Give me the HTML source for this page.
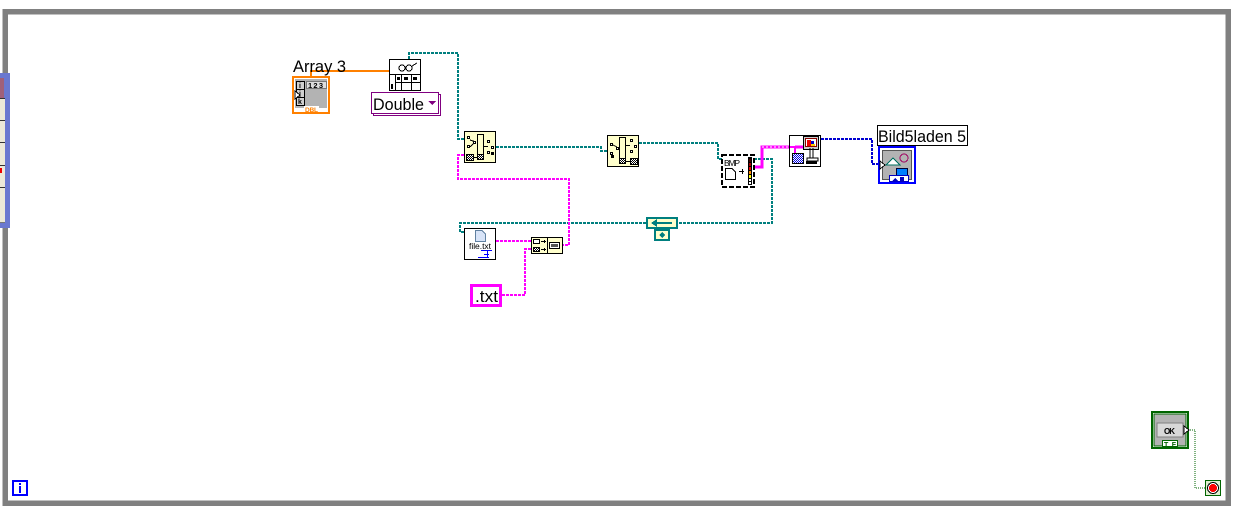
<!DOCTYPE html>
<html><head><meta charset="utf-8">
<style>
html,body{margin:0;padding:0;background:#fff;width:1234px;height:508px;overflow:hidden}
svg{display:block;position:absolute;left:0;top:0}
text{font-family:"Liberation Sans",sans-serif}
</style></head><body>
<svg width="1234" height="508" viewBox="0 0 1234 508" shape-rendering="crispEdges">
<defs>
<pattern id="chk" width="2" height="2" patternUnits="userSpaceOnUse"><rect width="2" height="2" fill="#fff"/><rect width="1" height="1" fill="#000"/><rect x="1" y="1" width="1" height="1" fill="#000"/></pattern>
<pattern id="chb" width="2" height="2" patternUnits="userSpaceOnUse"><rect width="2" height="2" fill="#fff"/><rect width="1" height="1" fill="#0000e0"/><rect x="1" y="1" width="1" height="1" fill="#0000e0"/></pattern>
</defs>
<!-- loop border -->
<rect x="5" y="11.5" width="1223" height="491.5" fill="none" stroke="#808080" stroke-width="5.5"/>
<!-- left panel -->
<rect x="0" y="73" width="10" height="155" fill="#6a78d0"/>
<rect x="0" y="78" width="4" height="20" fill="#a0607a"/>
<rect x="0" y="99" width="5" height="124" fill="#ece9d8"/>
<rect x="0" y="98" width="5" height="1" fill="#333"/><rect x="0" y="120" width="5" height="1" fill="#333"/>
<rect x="0" y="142" width="5" height="1" fill="#333"/><rect x="0" y="165" width="5" height="1" fill="#333"/>
<rect x="0" y="187" width="5" height="1" fill="#333"/><rect x="0" y="222" width="5" height="1" fill="#777"/>
<rect x="0" y="168" width="2" height="5" fill="#e00"/>
<!-- wires -->
<g fill="none" stroke-width="2">
<path d="M311 76V71H389" stroke="#ff8000"/>
<g stroke="#007f7f" stroke-dasharray="3 1">
<path d="M409 59V53H458V139H464"/>
<path d="M496 147H601V151H607"/>
<path d="M639 143H718V159H722"/>
<path d="M754 159H772V223H678"/>
<path d="M646 223H460V232H464"/>
</g>
<g stroke="#ff00ff" stroke-dasharray="3 1">
<path d="M464 155H458V179H569V245H563"/>
<path d="M496 241H531"/>
<path d="M502 295H525V249H531"/>
</g>
<path d="M755 167H762V147H789" stroke="#ff00ff" stroke-width="3"/>
<path d="M762 147H789" stroke="#fff" stroke-width="1" stroke-dasharray="2 2"/>
<path d="M821 139H872V164H878" stroke="#0000d0" stroke-dasharray="3 1"/>
</g>
<path d="M1188 430H1195V488H1205" fill="none" stroke="#006400" stroke-dasharray="1 1"/>
<!-- Array control -->
<rect x="293" y="77" width="36" height="36" fill="#fff" stroke="#ff8000" stroke-width="2"/>
<rect x="295" y="79" width="32" height="29" fill="#b3b3b3"/>
<rect x="296.500" y="81.500" width="8" height="24" fill="#d0d0d0" stroke="#000" stroke-width="1"/>
<path d="M296 89.500H304M296 97.500H304" stroke="#000"/>
<rect x="306.500" y="81.500" width="20" height="7" fill="#ddd" stroke="#777"/>
<text x="308" y="88" font-size="7.500" font-weight="bold" textLength="15">123</text>
<text x="299" y="88" font-size="7" font-weight="bold">i</text>
<text x="299" y="96" font-size="7" font-weight="bold">j</text>
<text x="298" y="104" font-size="7" font-weight="bold">k</text>
<path d="M295 91L300 95L295 99Z" fill="#fff" stroke="#000"/>
<rect x="304" y="106" width="15" height="6" fill="#fff"/>
<text x="305" y="112" font-size="6.500" font-weight="bold" fill="#ff8000" textLength="13">DBL</text>
<text x="293" y="72" font-size="17" fill="#000" textLength="53" lengthAdjust="spacingAndGlyphs">Array 3</text>
<!-- glasses table node -->
<rect x="389.500" y="59.500" width="31" height="31" fill="#fff" stroke="#000"/>
<path d="M389 74.500H421M401.500 74V91M411.500 74V91M395.500 74V91M395 82.500H421" stroke="#000" fill="none"/>
<g fill="none" stroke="#000"><circle cx="402" cy="68" r="3"/><circle cx="409" cy="68" r="3"/><path d="M412 66L417 63"/></g>
<rect x="397" y="77" width="3" height="3" fill="#000"/><rect x="404" y="77" width="4" height="3" fill="#000"/><rect x="413" y="77" width="4" height="3" fill="#000"/>
<rect x="391" y="84" width="2" height="5" fill="#000"/>
<!-- Double -->
<rect x="373.500" y="94.500" width="67" height="21" fill="#fff" stroke="#800080"/>
<rect x="371.500" y="92.500" width="67" height="21" fill="#fff" stroke="#800080"/>
<text x="373" y="110" font-size="17" fill="#000" textLength="51" lengthAdjust="spacingAndGlyphs">Double</text>
<path d="M428 101H436L432 105Z" fill="#800080"/>
<!-- yellow node 1 -->
<rect x="464.500" y="131.500" width="31" height="31" fill="#ffffcc" stroke="#000"/>
<rect x="477.500" y="134.500" width="6" height="25" fill="#ffffcc" stroke="#000"/>
<rect x="466.500" y="154.500" width="7" height="6" fill="url(#chk)" stroke="#000"/><rect x="477.500" y="154.500" width="6" height="5" fill="url(#chk)" stroke="#000"/>
<g fill="#fff" stroke="#000"><rect x="467.500" y="136.500" width="2" height="2"/><rect x="473.500" y="141.500" width="2" height="2"/><rect x="467.500" y="145.500" width="2" height="2"/><rect x="487.500" y="140.500" width="2" height="2"/><rect x="491.500" y="146.500" width="2" height="2"/><rect x="487.500" y="151.500" width="2" height="2"/></g>
<rect x="491" y="152" width="3" height="3" fill="#000"/>
<path d="M470 140L476 142M470 147L473 144M484 146.500H488M474 157.500H477" stroke="#000"/>
<!-- yellow node 2 -->
<rect x="607.500" y="135.500" width="31" height="31" fill="#ffffcc" stroke="#000"/>
<rect x="619.500" y="137.500" width="6" height="26" fill="#ffffcc" stroke="#000"/>
<rect x="619.500" y="158.500" width="6" height="5" fill="url(#chk)" stroke="#000"/><rect x="630.500" y="158.500" width="7" height="6" fill="url(#chk)" stroke="#000"/>
<g fill="#fff" stroke="#000"><rect x="610.500" y="143.500" width="2" height="2"/><rect x="610.500" y="152.500" width="2" height="2"/><rect x="616.500" y="147.500" width="2" height="2"/><rect x="630.500" y="139.500" width="2" height="2"/><rect x="634.500" y="145.500" width="2" height="2"/><rect x="630.500" y="150.500" width="2" height="2"/></g>
<rect x="611" y="155" width="3" height="3" fill="#000"/>
<path d="M613 145L617 147M626 145.500H630M626 161.500H630" stroke="#000"/>
<!-- BMP -->
<rect x="722" y="155" width="32" height="32" fill="#fff" stroke="#000" stroke-width="2" stroke-dasharray="5 2"/>
<text x="724" y="166" font-size="8.500" fill="#000" textLength="16">BMP</text>
<path d="M725.500 168.500H732L735.500 172V179.500H725.500Z" fill="#fff" stroke="#000"/>
<path d="M739 171.500H744M742.500 169V174" stroke="#000"/>
<rect x="748" y="157" width="4" height="28" fill="#000"/>
<rect x="749" y="159" width="2" height="3" fill="#400"/><rect x="749" y="163" width="2" height="3" fill="#a00"/><rect x="749" y="167" width="2" height="3" fill="#e00"/><rect x="749" y="171" width="2" height="3" fill="#f80"/><rect x="749" y="175" width="2" height="3" fill="#ff0"/><rect x="749" y="179" width="2" height="2" fill="#fff"/><rect x="749" y="182" width="2" height="2" fill="#fff"/>
<!-- picture node -->
<rect x="789.500" y="135.500" width="31" height="31" fill="#fff" stroke="#000"/>
<path d="M790 147H795V153" stroke="#ff00ff" stroke-width="2" fill="none"/>
<path d="M795 147H804" stroke="#ff00ff" stroke-width="3"/>
<rect x="792.500" y="153.500" width="11" height="10" fill="url(#chb)" stroke="#000"/>
<rect x="803.500" y="136.500" width="15" height="13" fill="#ccc" stroke="#000"/>
<rect x="805.500" y="138.500" width="11" height="8" fill="#fff" stroke="#800"/>
<rect x="807" y="140" width="4" height="6" fill="#e00"/><rect x="811" y="141" width="3" height="3" fill="#00c"/><rect x="811" y="144" width="4" height="2" fill="#fc0"/>
<path d="M810 158V148M813 158V148" stroke="#000"/>
<path d="M807 158H818V161H807Z" fill="#fff" stroke="#000"/>
<rect x="806" y="161" width="11" height="3" fill="#000"/>
<!-- Bild label -->
<rect x="877.500" y="125.500" width="90" height="20" fill="#fff" stroke="#000"/>
<text x="878" y="142" font-size="17" fill="#000" textLength="88" lengthAdjust="spacingAndGlyphs">Bild5laden 5</text>
<!-- picture control -->
<rect x="879" y="147" width="36" height="36" fill="#fff" stroke="#0000ff" stroke-width="2"/>
<rect x="882.500" y="150.500" width="29" height="29" fill="#b3b3b3" stroke="#555"/>
<path d="M886 165L893 158L900 165Z" fill="#fff" stroke="#007060"/>
<circle cx="904" cy="158" r="4" fill="none" stroke="#a00060"/>
<rect x="896.500" y="168.500" width="11" height="8" fill="#0080ff" stroke="#003"/>
<rect x="889.500" y="175.500" width="19" height="6" fill="#fff" stroke="#0000c0"/>
<rect x="900" y="177" width="4" height="4" fill="#0000c0"/>
<path d="M892 181L895 178L898 181Z" fill="#0000c0"/>
<path d="M880 161L885 165L880 169Z" fill="#fff" stroke="#000"/>
<!-- file.txt -->
<rect x="464.500" y="228.500" width="31" height="31" fill="#fff" stroke="#000"/>
<path d="M475.500 230.500H482L485.500 234V241.500H475.500Z" fill="#d8e4f8" stroke="#6080a0"/>
<text x="469" y="249" font-size="8.500" fill="#000" textLength="22">file.txt</text>
<path d="M481 250.500H492M478 257.500H489" stroke="#0000ff"/>
<path d="M484 254.500H489M487.500 251V257" stroke="#0000ff"/>
<!-- concat -->
<rect x="531.500" y="237.500" width="31" height="16" fill="#ffffcc" stroke="#000"/>
<path d="M547.500 237V254" stroke="#000"/>
<rect x="533.500" y="239.500" width="6" height="4" fill="#fff" stroke="#000"/>
<rect x="533.500" y="247.500" width="6" height="4" fill="url(#chk)" stroke="#000"/>
<path d="M541 241.500H546M541 249.500H546M544.500 240V243M544.500 248V251" stroke="#000"/>
<rect x="549.500" y="242.500" width="10" height="6" fill="#fff" stroke="#000"/>
<rect x="551" y="244" width="7" height="3" fill="#555"/>
<!-- .txt -->
<rect x="471.500" y="285.500" width="29" height="20" fill="#fff" stroke="#ff00ff" stroke-width="3"/>
<text x="475" y="302" font-size="17" fill="#000" textLength="23" lengthAdjust="spacingAndGlyphs">.txt</text>
<!-- shift register prim -->
<rect x="647" y="218" width="30" height="10" fill="#ffffcc" stroke="#007f7f" stroke-width="2"/>
<path d="M652 223H672" stroke="#007f7f" stroke-width="2"/>
<path d="M651 223L657 219V227Z" fill="#007f7f"/>
<rect x="655" y="230" width="14" height="10" fill="#ffffcc" stroke="#007f7f" stroke-width="2"/>
<path d="M662 232L665 235L662 238L659 235Z" fill="#007f7f"/>
<!-- OK -->
<rect x="1152" y="412" width="36" height="36" fill="#fff" stroke="#006400" stroke-width="2"/>
<rect x="1154" y="414" width="32" height="32" fill="#b3b3b3" stroke="#006400"/>
<rect x="1157" y="423" width="26" height="14" fill="#d8d8d8" stroke="#808080"/>
<text x="1164" y="434" font-size="8" font-weight="bold" fill="#000" textLength="11">OK</text>
<path d="M1184 426L1189 430L1184 434Z" fill="#fff" stroke="#000"/>
<rect x="1162.500" y="440.500" width="15" height="6" fill="#fff" stroke="#006400"/>
<text x="1164" y="447" font-size="7" font-weight="bold" fill="#006400" textLength="12">T F</text>
<!-- stop -->
<rect x="1205.500" y="480.500" width="15" height="15" fill="#dff0d0" stroke="#006400"/>
<circle cx="1213" cy="488" r="5.500" fill="#fff" stroke="#000"/>
<circle cx="1213" cy="488" r="4" fill="#f00"/>
<!-- info i -->
<rect x="13" y="481" width="14" height="14" fill="#fff" stroke="#0000ff" stroke-width="2"/>
<rect x="19" y="483" width="2" height="2" fill="#0000ff"/><rect x="19" y="486" width="2" height="7" fill="#0000ff"/>
</svg>
</body></html>
